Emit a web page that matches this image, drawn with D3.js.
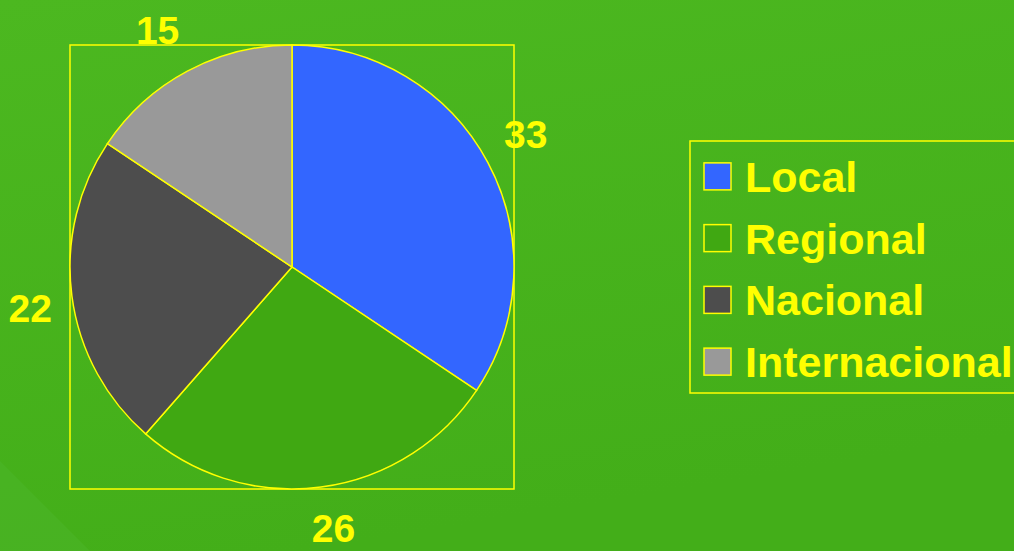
<!DOCTYPE html>
<html>
<head>
<meta charset="utf-8">
<script src="https://cdn.jsdelivr.net/npm/d3@7"></script>
<style>
  html, body { margin: 0; padding: 0; overflow: hidden; }
  svg { display: block; }
</style>
</head>
<body>
<div id="pie_chart"></div>
<script>
// data
const categories = ["Local", "Regional", "Nacional", "Internacional"];
const values = [33, 26, 22, 15];
const colors = ["#3366ff", "#40a812", "#4d4d4d", "#999999"];

const width = 1014, height = 551;
const cx = 292, cy = 267;
const radius = 222;
const yellow = "#ffff00";

const svg = d3.select("#pie_chart")
    .append("svg")
    .attr("width", width)
    .attr("height", height);

// background gradient
const defs = svg.append("defs");
const grad = defs.append("linearGradient")
    .attr("id", "bg")
    .attr("x1", "0").attr("y1", "0")
    .attr("x2", "0.3").attr("y2", "1");
grad.append("stop").attr("offset", "0%").attr("stop-color", "#4cb820");
grad.append("stop").attr("offset", "100%").attr("stop-color", "#43ae19");

svg.append("rect")
    .attr("width", width)
    .attr("height", height)
    .attr("fill", "url(#bg)");

// faint lighter corner at bottom left
svg.append("path")
    .attr("d", `M0,${height - 90} L90,${height} L0,${height} Z`)
    .attr("fill", "#4bb52a")
    .attr("opacity", 0.5);

// plot area frame
svg.append("rect")
    .attr("x", cx - radius)
    .attr("y", cy - radius)
    .attr("width", radius * 2)
    .attr("height", radius * 2)
    .attr("fill", "none")
    .attr("stroke", yellow)
    .attr("stroke-width", 1.5);

const color = d3.scaleOrdinal()
    .domain(categories)
    .range(colors);

const pie = d3.pie()
    .value(function(d) { return d.value; })
    .sort(null);

const data_ready = pie(categories.map((c, i) => ({ key: c, value: values[i] })));

const arcGenerator = d3.arc()
    .innerRadius(0)
    .outerRadius(radius);

// labels sit a bit outside the rim, a little further out on the upper half
const labelShift = 1.5 * Math.PI / 180;
function labelPos(d) {
    const a = (d.startAngle + d.endAngle) / 2 - labelShift;
    const r = 265 + 8 * Math.max(0, Math.cos(a));
    return [r * Math.sin(a), -r * Math.cos(a)];
}

const g = svg.append("g")
    .attr("transform", `translate(${cx}, ${cy})`);

g.selectAll("path")
    .data(data_ready)
    .join("path")
    .attr("d", arcGenerator)
    .attr("fill", function(d) { return color(d.data.key); })
    .attr("stroke", yellow)
    .style("stroke-width", "1.5px");

g.selectAll("text")
    .data(data_ready)
    .join("text")
    .attr("transform", function(d) { return `translate(${labelPos(d)})`; })
    .attr("text-anchor", "middle")
    .attr("dominant-baseline", "central")
    .attr("fill", yellow)
    .style("font-family", "Liberation Sans, Arial, sans-serif")
    .style("font-weight", "bold")
    .style("font-size", "39px")
    .text(function(d) { return d.data.value; });

// legend
const legend = svg.append("g")
    .attr("transform", "translate(690, 141)");

legend.append("rect")
    .attr("x", 0)
    .attr("y", 0)
    .attr("width", 340)
    .attr("height", 252)
    .attr("fill", "none")
    .attr("stroke", yellow)
    .attr("stroke-width", 1.5);

const rowY = d3.scaleBand()
    .domain(categories)
    .range([5, 252])
    .paddingInner(0);

const rows = legend.selectAll("g.row")
    .data(categories)
    .join("g")
    .attr("class", "row")
    .attr("transform", function(d) { return `translate(0, ${rowY(d) + rowY.bandwidth() / 2})`; });

rows.append("rect")
    .attr("x", 14)
    .attr("y", -14)
    .attr("width", 27)
    .attr("height", 27)
    .attr("fill", function(d) { return color(d); })
    .attr("stroke", yellow)
    .attr("stroke-width", 1.5);

rows.append("text")
    .attr("x", 55)
    .attr("y", 15)
    .attr("fill", yellow)
    .style("font-family", "Liberation Sans, Arial, sans-serif")
    .style("font-weight", "bold")
    .style("font-size", "43px")
    .text(function(d) { return d; });
</script>
</body>
</html>
